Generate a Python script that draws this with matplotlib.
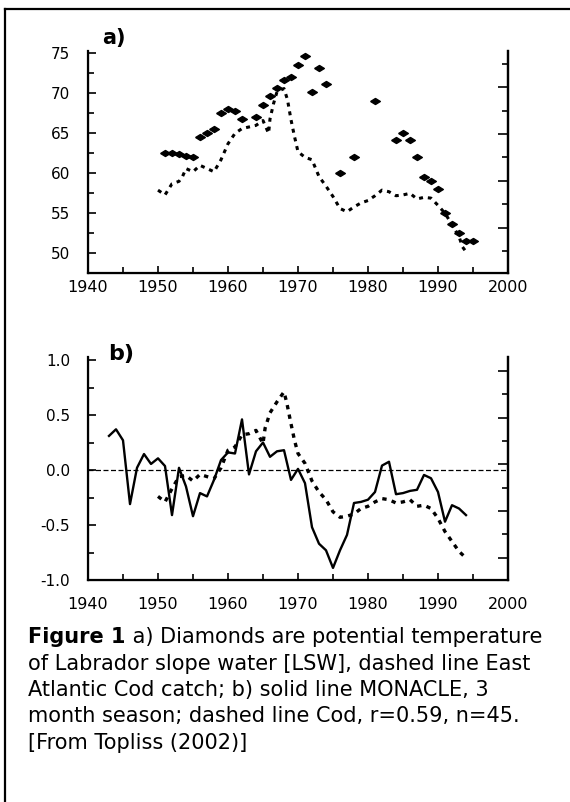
import matplotlib
matplotlib.use("Agg")
import matplotlib.pyplot as plt
from matplotlib.lines import Line2D
from matplotlib.ticker import MultipleLocator

# panel a) - LSW potential temperature (diamonds)
lsw_years = [1951, 1952, 1953, 1954, 1955, 1956, 1957, 1958, 1959, 1960, 1961, 1962,
             1964, 1965, 1966, 1967, 1968, 1969, 1970, 1971, 1972, 1973, 1974, 1976,
             1978, 1981, 1984, 1985, 1986, 1987, 1988, 1989, 1990, 1991, 1992, 1993,
             1994, 1995]
lsw_temp = [62.5, 62.5, 62.4, 62.2, 62.1, 64.5, 65.0, 65.5, 67.6, 68.0, 67.8, 66.8,
            67.1, 68.6, 69.7, 70.7, 71.7, 72.0, 73.6, 74.7, 70.2, 73.2, 71.2, 60.1,
            62.1, 69.1, 64.2, 65.1, 64.2, 62.1, 59.6, 59.0, 58.0, 55.0, 53.7, 52.5,
            51.5, 51.5]

# panel a) - East Atlantic cod catch (dashed)
cod_years_a = [1950, 1951, 1952, 1953, 1953.5, 1954, 1955, 1956, 1957, 1958, 1959,
               1960, 1961, 1962, 1963, 1964, 1965, 1965.8, 1966, 1966.5, 1967, 1968,
               1968.5, 1969, 1969.5, 1970, 1971, 1972, 1973, 1974, 1975, 1976, 1977,
               1978, 1979, 1980, 1981, 1982, 1983, 1984, 1985, 1986, 1987, 1988, 1989,
               1990, 1991, 1992, 1993, 1993.5, 1994]
cod_catch = [57.9, 57.3, 58.7, 59.0, 59.6, 60.6, 60.2, 61.0, 60.6, 60.2, 61.7,
             63.7, 65.0, 65.6, 65.8, 66.0, 66.6, 65.0, 66.8, 68.7, 70.2, 70.6,
             69.2, 66.7, 64.6, 62.7, 62.0, 61.7, 59.6, 58.4, 57.1, 55.6, 55.2,
             55.8, 56.3, 56.6, 57.2, 57.9, 57.7, 57.2, 57.3, 57.5, 56.8, 57.0, 56.9,
             56.0, 55.0, 53.6, 52.1, 50.8, 50.2]

# panel b) - MONACLE 3 month season (solid)
mon_years = list(range(1943, 1995))
monacle = [0.31, 0.37, 0.27, -0.31, 0.02, 0.145, 0.055, 0.106, 0.036, -0.41,
           0.02, -0.15, -0.42, -0.21, -0.24, -0.09, 0.09, 0.16, 0.15, 0.46,
           -0.04, 0.17, 0.25, 0.12, 0.17, 0.18, -0.09, 0.01, -0.12, -0.52,
           -0.67, -0.73, -0.89, -0.73, -0.59, -0.30, -0.29, -0.27, -0.20, 0.04,
           0.075, -0.22, -0.21, -0.19, -0.18, -0.045, -0.075, -0.2, -0.47, -0.32,
           -0.35, -0.41]

# panel b) - cod, standardised (dashed)
cod_years_b = [1950, 1951, 1952, 1953, 1954, 1955, 1956, 1957, 1958, 1959, 1960,
               1961, 1962, 1963, 1964, 1965, 1965.3, 1966, 1967, 1968, 1968.4, 1969,
               1969.5, 1970, 1971, 1972, 1973, 1974, 1975, 1976, 1977, 1978, 1979,
               1980, 1981, 1982, 1983, 1984, 1985, 1986, 1987, 1988, 1989, 1990,
               1991, 1992, 1993, 1994]
cod_std = [-0.24, -0.29, -0.17, -0.06, -0.05, -0.10, -0.04, -0.06, -0.08, 0.02, 0.18,
           0.21, 0.32, 0.33, 0.36, 0.24, 0.38, 0.52, 0.62, 0.71, 0.61, 0.42,
           0.27, 0.15, 0.06, -0.10, -0.20, -0.27, -0.38, -0.43, -0.42, -0.40, -0.35,
           -0.33, -0.29, -0.26, -0.27, -0.30, -0.29, -0.27, -0.33, -0.32, -0.35, -0.44,
           -0.56, -0.65, -0.74, -0.80]

caption_first = " a) Diamonds are potential temperature"
caption_lines = [
    "of Labrador slope water [LSW], dashed line East",
    "Atlantic Cod catch; b) solid line MONACLE, 3",
    "month season; dashed line Cod, r=0.59, n=45.",
    "[From Topliss (2002)]",
]

W, H = 570, 802
fig = plt.figure(figsize=(5.7, 8.02), dpi=100)

diamond = [(-1, 0), (0, 0.62), (1, 0), (0, -0.62), (-1, 0)]


def style_axes(ax, right_lim, right_major, xpad):
    ax.set_xlim(1940, 2000)
    ax.spines["top"].set_visible(False)
    for s in ["left", "right", "bottom"]:
        ax.spines[s].set_linewidth(1.6)
    ax.xaxis.set_major_locator(MultipleLocator(10))
    ax.xaxis.set_minor_locator(MultipleLocator(5))
    ax.tick_params(axis="x", which="both", direction="in", top=False,
                   labelsize=11.5, pad=xpad, width=1.2)
    ax.tick_params(axis="x", which="major", length=5)
    ax.tick_params(axis="x", which="minor", length=4)
    ax.tick_params(axis="y", which="both", direction="in", right=False,
                   labelsize=11, pad=13, width=1.2)
    ax.tick_params(axis="y", which="major", length=6)
    ax.tick_params(axis="y", which="minor", length=4)
    # unlabelled scale on the right spine
    tw = ax.twinx()
    tw.set_ylim(*right_lim)
    tw.spines["top"].set_visible(False)
    tw.spines["right"].set_linewidth(1.6)
    tw.yaxis.set_major_locator(MultipleLocator(right_major))
    tw.yaxis.set_minor_locator(MultipleLocator(right_major / 2))
    tw.tick_params(axis="y", which="both", direction="in", labelright=False, width=1.2)
    tw.tick_params(axis="y", which="major", length=7)
    tw.tick_params(axis="y", which="minor", length=4)
    return tw


# ---- panel a
ax1 = fig.add_axes([88 / W, 1 - 273.3 / H, 420 / W, 222.3 / H])
ax1.plot(cod_years_a, cod_catch, color="black", linewidth=2.2,
         linestyle=(0, (1.3, 1.6)))
ax1.plot(lsw_years, lsw_temp, linestyle="none", marker=diamond, markersize=7,
         color="black")
ax1.set_ylim(47.5, 75.3)
ax1.yaxis.set_major_locator(MultipleLocator(5))
ax1.yaxis.set_minor_locator(MultipleLocator(2.5))
style_axes(ax1, (-0.97, 3.77), 1, 5)
fig.text(102 / W, 1 - 44 / H, "a)", fontsize=15, fontweight="bold")

# ---- panel b
ax2 = fig.add_axes([88 / W, 1 - 580 / H, 420 / W, 223.3 / H])
ax2.axhline(0, color="black", linewidth=0.9, linestyle=(0, (4, 2)))
ax2.plot(mon_years, monacle, color="black", linewidth=1.7)
ax2.plot(cod_years_b, cod_std, color="black", linewidth=2.4,
         linestyle=(0, (1.3, 1.6)))
ax2.set_ylim(-1.0, 1.03)
ax2.yaxis.set_minor_locator(MultipleLocator(0.25))
ax2.set_yticks([1.0, 0.5, 0.0, -0.5, -1.0])
ax2.set_yticklabels(["1.0", "0.5", "0.0", "-0.5", "-1.0"])
style_axes(ax2, (-0.957, 8.61), 2, 12)
fig.text(108 / W, 1 - 360 / H, "b)", fontsize=16, fontweight="bold")

# ---- caption
fs = 15
t1 = fig.text(28 / W, 1 - 643 / H, "Figure 1", fontsize=fs, fontweight="bold",
              va="baseline")
ax1.annotate(caption_first, xy=(1, 0), xycoords=t1, fontsize=fs, va="bottom",
             annotation_clip=False)
for i, line in enumerate(caption_lines):
    fig.text(28 / W, 1 - (669.5 + 26.5 * i) / H, line, fontsize=fs, va="baseline")

# ---- page frame (top and left edges)
fig.add_artist(Line2D([5 / W, 1], [1 - 9 / H, 1 - 9 / H], color="black", linewidth=1.6))
fig.add_artist(Line2D([5 / W, 5 / W], [0, 1 - 9 / H], color="black", linewidth=1.6))

fig.savefig("out.png", dpi=100)
